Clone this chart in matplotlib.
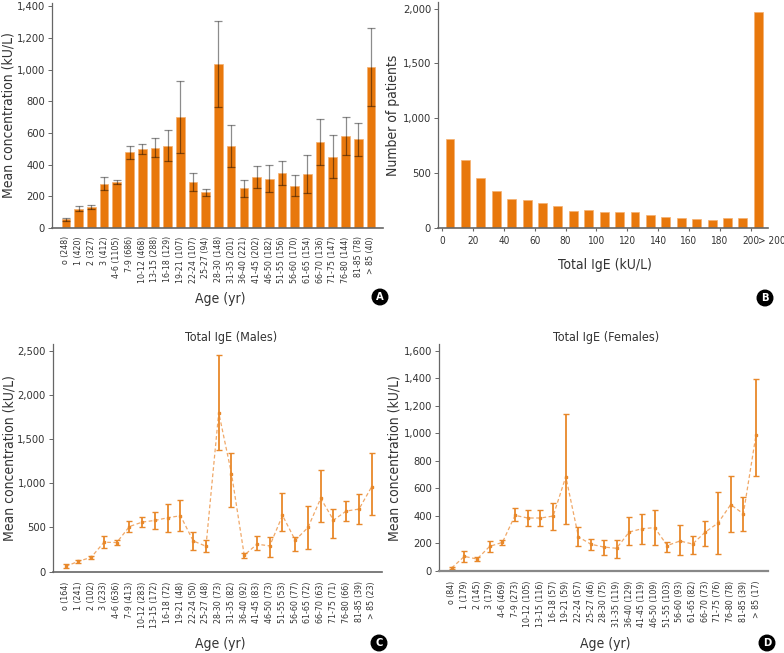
import matplotlib
matplotlib.use("Agg")
import matplotlib.pyplot as plt
from matplotlib import font_manager as fm
from matplotlib.ticker import StrMethodFormatter
import numpy as np

# narrow font if one is installed, otherwise condensed DejaVu
names = {f.name for f in fm.fontManager.ttflist}
if 'Liberation Sans Narrow' in names:
    plt.rcParams['font.family'] = ['Liberation Sans Narrow', 'DejaVu Sans']
else:
    plt.rcParams['font.family'] = ['DejaVu Sans']
    plt.rcParams['font.stretch'] = 'condensed'

# ---- data ----
ages_a = ["o (248)", "1 (420)", "2 (327)", "3 (412)", "4-6 (1105)", "7-9 (686)",
          "10-12 (468)", "13-15 (288)", "16-18 (129)", "19-21 (107)", "22-24 (107)",
          "25-27 (94)", "28-30 (148)", "31-35 (201)", "36-40 (221)", "41-45 (202)",
          "46-50 (182)", "51-55 (156)", "56-60 (170)", "61-65 (154)", "66-70 (136)",
          "71-75 (147)", "76-80 (144)", "81-85 (78)", "> 85 (40)"]
mean_a = [55, 122, 132, 280, 288, 478, 500, 508, 520, 700, 290, 225, 1035, 520,
          250, 322, 310, 348, 266, 340, 542, 450, 580, 560, 1015]
err_a = [10, 15, 14, 40, 13, 42, 32, 58, 100, 228, 55, 23, 270, 133,
         55, 68, 85, 75, 67, 118, 145, 135, 122, 103, 248]

ige_bins = [5, 15, 25, 35, 45, 55, 65, 75, 85, 95, 105, 115, 125, 135, 145,
            155, 165, 175, 185, 195, 205]
n_patients = [815, 622, 459, 338, 266, 256, 229, 199, 154, 163, 145, 142, 142,
              121, 97, 94, 84, 69, 87, 87, 1970]
ige_ticks = [0, 20, 40, 60, 80, 100, 120, 140, 160, 180, 200]
ige_over = "> 200"

ages_m = ["o (164)", "1 (241)", "2 (102)", "3 (233)", "4-6 (636)", "7-9 (413)",
          "10-12 (283)", "13-15 (172)", "16-18 (72)", "19-21 (48)", "22-24 (50)",
          "25-27 (48)", "28-30 (73)", "31-35 (82)", "36-40 (92)", "41-45 (83)",
          "46-50 (73)", "51-55 (53)", "56-60 (77)", "61-65 (72)", "66-70 (63)",
          "71-75 (71)", "76-80 (66)", "81-85 (39)", "> 85 (23)"]
mean_m = [61, 117, 163, 333, 330, 511, 561, 580, 610, 633, 348, 288, 1800, 1110,
          186, 311, 292, 636, 356, 500, 830, 583, 686, 708, 962]
low_m = [38, 102, 148, 273, 302, 445, 506, 487, 453, 457, 248, 220, 1380, 737,
         156, 242, 170, 462, 231, 261, 557, 386, 572, 538, 644]
high_m = [84, 132, 178, 405, 358, 577, 616, 673, 767, 809, 448, 356, 2450, 1342,
          216, 401, 398, 886, 394, 742, 1152, 712, 803, 875, 1341]

ages_f = ["o (84)", "1 (179)", "2 (145)", "3 (179)", "4-6 (469)", "7-9 (273)",
          "10-12 (105)", "13-15 (116)", "16-18 (57)", "19-21 (59)", "22-24 (57)",
          "25-27 (46)", "28-30 (75)", "31-35 (119)", "36-40 (129)", "41-45 (119)",
          "46-50 (109)", "51-55 (103)", "56-60 (93)", "61-65 (82)", "66-70 (73)",
          "71-75 (76)", "76-80 (78)", "81-85 (39)", "> 85 (17)"]
mean_f = [22, 106, 87, 179, 208, 404, 385, 385, 399, 685, 247, 194, 174, 165,
          283, 307, 315, 185, 218, 196, 283, 348, 482, 416, 990]
low_f = [14, 65, 70, 135, 188, 365, 329, 324, 298, 341, 179, 152, 116, 97,
         186, 196, 189, 135, 116, 126, 184, 123, 281, 288, 692]
high_f = [30, 143, 104, 215, 228, 455, 440, 440, 491, 1140, 319, 235, 223, 225,
          390, 416, 445, 208, 332, 257, 361, 574, 687, 535, 1398]

orange = '#E8780C'
line_orange = '#F0A868'
err_orange = '#E8882A'
txt = '#333333'
spine = '#666666'

fig = plt.figure(figsize=(7.84, 6.53), dpi=100)
W, H = 784.0, 653.0


def box(l, t, r, b):
    return [l / W, 1 - b / H, (r - l) / W, (b - t) / H]


def style(ax):
    for s in ['top', 'right']:
        ax.spines[s].set_visible(False)
    ax.spines['left'].set_color(spine)
    ax.spines['bottom'].set_color(spine)
    ax.spines['left'].set_linewidth(0.9)
    ax.spines['bottom'].set_linewidth(1.2)
    ax.tick_params(axis='y', colors=spine, labelcolor=txt, labelsize=8,
                   length=3, width=0.7, pad=2)
    ax.yaxis.set_major_formatter(StrMethodFormatter('{x:,.0f}'))


def badge(x, y, letter):
    fig.text(x / W, 1 - y / H, letter, color='white', fontsize=8, fontweight='bold',
             ha='center', va='center',
             bbox=dict(boxstyle='circle,pad=0.25', fc='black', ec='black'))


# ---- A ----
axA = fig.add_axes(box(52, 3, 383, 228))
style(axA)
xa = np.arange(len(ages_a))
axA.bar(xa, mean_a, width=0.68, color=orange, edgecolor='#F5B070', linewidth=0.5)
axA.errorbar(xa, mean_a, yerr=err_a, fmt='none', ecolor=(0, 0, 0, 0.45),
             elinewidth=0.9, capsize=3, capthick=0.9)
axA.set_xlim(-1.1, 24.95)
axA.set_ylim(0, 1420)
axA.set_yticks(range(0, 1401, 200))
axA.set_xticks(xa)
axA.set_xticklabels(ages_a, rotation=90, fontsize=6.3, color=txt)
axA.tick_params(axis='x', length=0, pad=6)

# ---- B ----
axB = fig.add_axes(box(438, 2, 768, 228))
style(axB)
axB.bar(ige_bins, n_patients, width=5.8, color=orange, edgecolor='#F5B070', linewidth=0.5)
axB.set_xlim(-2.8, 211.3)
axB.set_ylim(0, 2060)
axB.set_yticks(range(0, 2001, 500))
axB.set_xticks(ige_ticks)
axB.set_xticklabels([str(t) for t in ige_ticks], fontsize=7.2, color=txt)
axB.tick_params(axis='x', length=2, colors=spine, labelcolor=txt, pad=4)
axB.annotate(ige_over, xy=(213.5, 0), xycoords=('data', 'axes fraction'),
             xytext=(0, -6), textcoords='offset points', ha='center', va='top',
             fontsize=7.2, color=txt, annotation_clip=False)


# ---- C & D ----
def line_panel(ax, means, lows, highs, labels):
    style(ax)
    x = np.arange(len(means))
    m = np.array(means)
    yerr = [m - np.array(lows), np.array(highs) - m]
    ax.plot(x, m, linestyle=(0, (3, 2)), color=line_orange, lw=0.9)
    ax.errorbar(x, m, yerr=yerr, fmt='none', ecolor=err_orange, elinewidth=1.3,
                capsize=2, capthick=1.0)
    ax.plot(x, m, linestyle='none', marker='s', ms=2, color=err_orange)
    ax.set_xticks(x)
    ax.set_xticklabels(labels, rotation=90, fontsize=6.3, color=txt)
    ax.tick_params(axis='x', length=0, pad=7)


axC = fig.add_axes(box(52.7, 344, 381.7, 571.7))
line_panel(axC, mean_m, low_m, high_m, ages_m)
axC.set_xlim(-1.02, 24.78)
axC.set_ylim(0, 2575)
axC.set_yticks(range(0, 2501, 500))

axD = fig.add_axes(box(439, 344, 767.7, 571))
line_panel(axD, mean_f, low_f, high_f, ages_f)
axD.set_xlim(-1.0, 24.92)
axD.set_ylim(0, 1649)
axD.set_yticks(range(0, 1601, 200))
axD.spines['bottom'].set_color('#888888')
axD.spines['bottom'].set_linewidth(1.6)

# ---- labels ----
lab = dict(fontsize=10, color=txt, ha='center', va='center')
fig.text(9 / W, 1 - 115 / H, "Mean concentration (kU/L)", rotation=90, **lab)
fig.text(393 / W, 1 - 115 / H, "Number of patients", rotation=90, **lab)
fig.text(10 / W, 1 - 458 / H, "Mean concentration (kU/L)", rotation=90, **lab)
fig.text(395 / W, 1 - 458 / H, "Mean concentration (kU/L)", rotation=90, **lab)
fig.text(220 / W, 1 - 299 / H, "Age (yr)", **lab)
fig.text(605 / W, 1 - 265 / H, "Total IgE (kU/L)", **lab)
fig.text(220 / W, 1 - 644 / H, "Age (yr)", **lab)
fig.text(605 / W, 1 - 644 / H, "Age (yr)", **lab)
fig.text(231 / W, 1 - 337 / H, "Total IgE (Males)", fontsize=9, color=txt,
         ha='center', va='center')
fig.text(606 / W, 1 - 337 / H, "Total IgE (Females)", fontsize=9, color=txt,
         ha='center', va='center')

badge(380, 297, "A")
badge(765, 298, "B")
badge(379, 643, "C")
badge(767, 643, "D")

fig.savefig("out.png", dpi=100)
